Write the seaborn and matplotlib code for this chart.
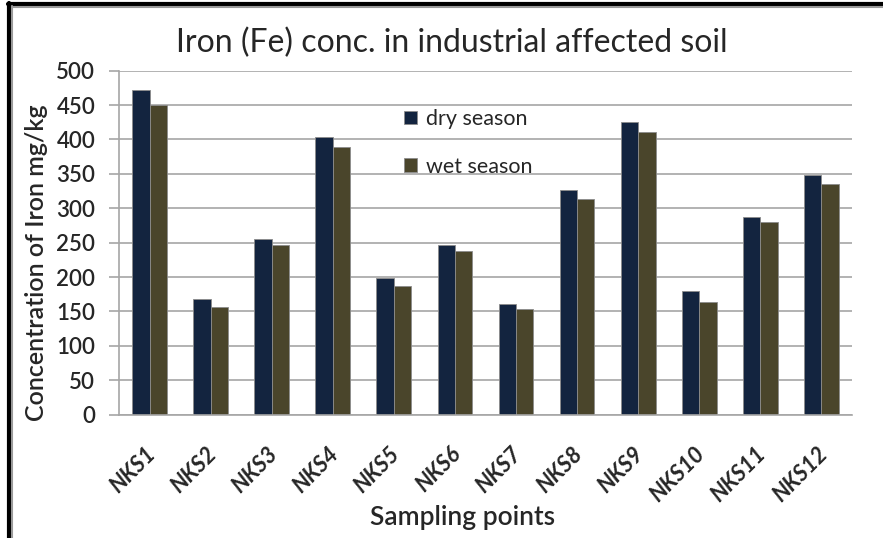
import pandas as pd
import seaborn as sns
import matplotlib.pyplot as plt
from matplotlib.lines import Line2D
from matplotlib.transforms import ScaledTranslation

# values
points = ["NKS1", "NKS2", "NKS3", "NKS4", "NKS5", "NKS6",
          "NKS7", "NKS8", "NKS9", "NKS10", "NKS11", "NKS12"]
dry_season = [472, 168, 256, 403, 199, 247, 161, 326, 425, 180, 288, 349]
wet_season = [450, 156, 247, 389, 187, 238, 154, 313, 411, 164, 280, 335]
seasons = ["dry season", "wet season"]
colors = ["#13243f", "#4a452b"]

df = pd.DataFrame({
    "Sampling points": points * 2,
    "Iron": dry_season + wet_season,
    "Season": [seasons[0]] * len(points) + [seasons[1]] * len(points),
})

sns.set_style("white")
plt.rcParams['font.family'] = ['Lato', 'DejaVu Sans']

fig = plt.figure(figsize=(8.83, 5.38), dpi=100)
ax = fig.add_axes([0.1348, 0.2292, 0.830, 0.6394])

sns.barplot(data=df, x="Sampling points", y="Iron", hue="Season",
            palette=colors, saturation=1, width=0.57, ax=ax,
            edgecolor="#8c8c8c", linewidth=0.6)

ax.set_ylim(0, 500)
ax.set_xlim(-0.5, len(points) - 0.5)
ax.set_yticks(range(0, 501, 50))
ax.yaxis.grid(True, color="#a6a6a6", linewidth=1.2)
ax.set_axisbelow(True)
for side in ["top", "right"]:
    ax.spines[side].set_visible(False)
ax.spines["left"].set_color("#a6a6a6")
ax.spines["bottom"].set_color("#a6a6a6")
ax.spines["left"].set_linewidth(1.2)
ax.spines["bottom"].set_linewidth(1.2)
ax.tick_params(axis="y", left=True, length=7, color="#a6a6a6", width=1.2,
               labelsize=16, pad=10)
ax.tick_params(axis="x", bottom=False, pad=17)
for lbl in ax.get_yticklabels():
    lbl.set_fontweight("semibold")
ax.set_xticks(range(len(points)))
ax.set_xticklabels(points, rotation=45, ha="right", rotation_mode="anchor",
                   fontsize=16, fontweight="bold", fontstyle="italic")
shift = ScaledTranslation(-5 / 100, 0, fig.dpi_scale_trans)
for lbl in ax.get_xticklabels():
    lbl.set_transform(lbl.get_transform() + shift)

ax.set_xlabel("Sampling points", fontsize=19, fontweight="semibold", va="center")
ax.xaxis.set_label_coords(0.468, -0.300)
ax.set_ylabel("Concentration of Iron mg/kg", fontsize=18, fontweight="semibold",
              va="center")
ax.yaxis.set_label_coords(-0.1125, 0.441)
fig.text(0.512, 0.921, "Iron (Fe) conc. in industrial affected soil",
         ha="center", va="center", fontsize=23)

handles, labels = ax.get_legend_handles_labels()
ax.legend(handles, labels, loc="upper left", bbox_to_anchor=(0.362, 0.945),
          frameon=False, fontsize=15.5, handlelength=0.6, handleheight=0.6,
          handletextpad=0.45, labelspacing=1.29)

# page border left over from the screenshot
fig.add_artist(Line2D([8 / 883, 1], [1 - 4 / 538] * 2, color="black", lw=3))
fig.add_artist(Line2D([8 / 883, 1], [1 - 6.5 / 538] * 2, color="#9a9a9a", lw=1.5))
fig.add_artist(Line2D([9 / 883] * 2, [0, 1 - 3 / 538], color="black", lw=3))
fig.add_artist(Line2D([11.5 / 883] * 2, [0, 1 - 6 / 538], color="#9a9a9a", lw=1.5))

fig.savefig("out.png", dpi=100)
